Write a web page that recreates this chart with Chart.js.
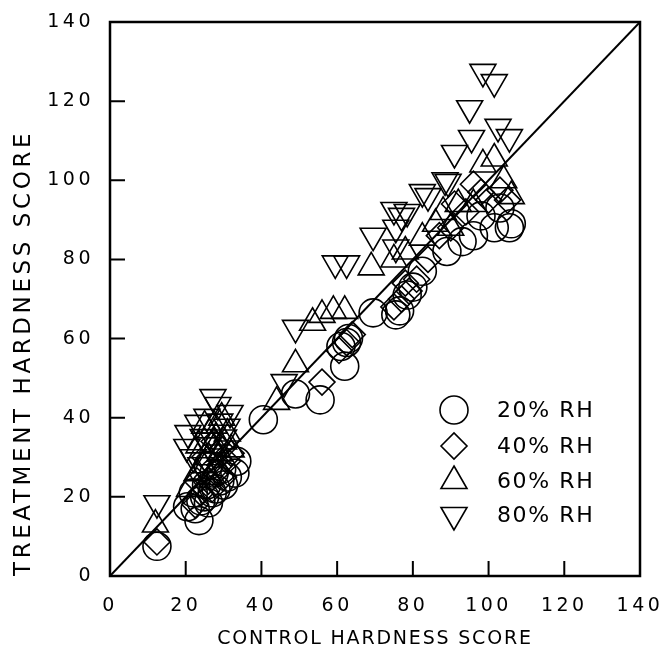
<!DOCTYPE html>
<html>
<head>
<meta charset="utf-8">
<script src="https://cdn.jsdelivr.net/npm/chart.js@4/dist/chart.umd.min.js"></script>
<style>
  html, body { margin: 0; padding: 0; background: #fff; }
  #wrap { width: 663px; height: 658px; }
</style>
</head>
<body>
<div id="wrap"><canvas id="hardness"></canvas></div>
<script>
// values (control score, treatment score)
const rh20X = [12.4, 23.5, 20.5, 22.5, 24, 25, 26, 27, 28, 29, 30, 31, 33, 33.5, 25.5, 27.5, 29.5, 22, 26, 40.5, 49, 55.5, 62, 61, 62.5, 63, 69.5, 75.5, 76.5, 78.5, 80, 82.5, 89, 93, 96, 101.5, 105.5, 106, 98, 103];
const rh20Y = [7.5, 14, 17.5, 17, 19, 20, 18.5, 21, 22, 24, 23, 25, 26, 29, 23, 26, 27, 21, 28, 39.5, 46, 44.5, 53, 58, 59, 60, 66.5, 66, 67, 71, 73, 77, 82, 84.5, 86, 88, 88, 89, 91, 93];

const rh40X = [12.4, 22.5, 24, 26, 27, 28, 29, 30, 31, 25, 23, 32, 27.5, 29.5, 56, 60.5, 62.5, 64, 75, 77, 79, 81, 84, 87, 90, 91, 94, 96, 98, 100, 103, 105, 78];
const rh40Y = [8.6, 18, 21, 24, 22, 26, 28, 25, 29, 30, 24, 31, 34, 32, 49, 57, 59, 61, 68, 70, 72, 75, 80, 86, 88, 94, 92, 99, 97, 95, 97.5, 95, 74];

const rh60X = [12, 21, 23, 24.5, 26, 27, 28, 29, 30, 31, 32, 25, 27.5, 29.5, 26.5, 23.5, 44, 49, 53.5, 56, 59, 62, 69, 75, 78, 82.5, 86, 88, 92, 96, 98.5, 101.5, 106, 104, 90];
const rh60Y = [13, 22, 26, 28, 30, 33, 35, 31, 34, 36, 32, 38, 38, 40, 25, 33, 44, 53.5, 64, 66, 67, 67, 78, 80, 82, 85.5, 89, 92, 94, 94, 104, 105.5, 96, 100, 88];

const rh80X = [12.4, 20.3, 20.6, 23.2, 24.6, 25.6, 27.2, 28.5, 30.9, 31.7, 22, 26, 29, 30, 24, 46, 49, 59.5, 62.5, 69.5, 75, 75.5, 78.5, 75.5, 82.5, 88.5, 89.3, 91, 95.5, 95, 98.5, 101.5, 102.5, 105.5, 77, 84];
const rh80Y = [18.4, 32.6, 36.1, 38.7, 35.1, 40.2, 45.2, 43.2, 37.7, 41.2, 30, 33, 39, 35, 28, 49, 62.7, 79, 79, 86, 92.5, 83, 92, 88, 97, 100, 99.6, 106.9, 110.7, 118.2, 127.4, 124.8, 113.5, 110.9, 91, 96];

const seriesLabels = ['20% RH', '40% RH', '60% RH', '80% RH'];
const axisTicks = [0, 20, 40, 60, 80, 100, 120, 140];
const lineOfEquality = [0, 140];

const FONT = "'DejaVu Sans', sans-serif";

function pairs(xs, ys) {
  return xs.map((x, i) => ({ x: x, y: ys[i] }));
}

const markerStyles = [
  { pointStyle: 'circle', radius: 14, rotation: 0 },
  { pointStyle: 'rectRot', radius: 13, rotation: 0 },
  { pointStyle: 'triangle', radius: 15, rotation: 0 },
  { pointStyle: 'triangle', radius: 15, rotation: 180 }
];

const seriesData = [pairs(rh20X, rh20Y), pairs(rh40X, rh40Y), pairs(rh60X, rh60Y), pairs(rh80X, rh80Y)];

const datasets = seriesData.map((d, i) => ({
  type: 'scatter',
  label: seriesLabels[i],
  data: d,
  pointStyle: markerStyles[i].pointStyle,
  pointRadius: markerStyles[i].radius,
  pointRotation: markerStyles[i].rotation,
  pointBorderColor: '#000',
  pointBackgroundColor: 'rgba(0,0,0,0)',
  pointBorderWidth: 1.6,
  pointHoverRadius: markerStyles[i].radius
}));

datasets.push({
  type: 'line',
  label: 'y = x',
  data: pairs(lineOfEquality, lineOfEquality),
  borderColor: '#000',
  borderWidth: 2,
  pointRadius: 0,
  fill: false
});

// wrap a scale draw method so its text gets its own letter spacing
function spaced(fn, sp) {
  return function () {
    const c = this.ctx;
    const old = c.letterSpacing;
    c.letterSpacing = sp;
    fn.apply(this, arguments);
    c.letterSpacing = old;
  };
}

const spacingPlugin = {
  id: 'spacing',
  afterUpdate(chart) {
    const x = chart.scales.x, y = chart.scales.y;
    if (!x._spaced) {
      x.drawLabels = spaced(x.drawLabels, '3.5px');
      x.drawTitle = spaced(x.drawTitle, '1.8px');
      x._spaced = true;
    }
    if (!y._spaced) {
      y.drawLabels = spaced(y.drawLabels, '3.5px');
      y.drawTitle = spaced(y.drawTitle, '3.6px');
      y._spaced = true;
    }
  }
};

// box and inward ticks
const framePlugin = {
  id: 'frame',
  afterDatasetsDraw(chart) {
    const ctx = chart.ctx;
    const a = chart.chartArea;
    const xs = chart.scales.x, ys = chart.scales.y;
    ctx.save();
    ctx.strokeStyle = '#000';
    ctx.lineWidth = 2.5;
    ctx.strokeRect(a.left, a.top, a.right - a.left, a.bottom - a.top);
    ctx.lineWidth = 2;
    ctx.beginPath();
    axisTicks.slice(1, -1).forEach(v => {
      const px = xs.getPixelForValue(v);
      ctx.moveTo(px, a.bottom);
      ctx.lineTo(px, a.bottom - 15);
      const py = ys.getPixelForValue(v);
      ctx.moveTo(a.left, py);
      ctx.lineTo(a.left + 15, py);
    });
    ctx.stroke();
    ctx.restore();
  }
};

// legend drawn inside the plot, lower right
const insideLegend = {
  id: 'insideLegend',
  afterDraw(chart) {
    const ctx = chart.ctx;
    const a = chart.chartArea;
    const mx = a.left + 344, tx = a.left + 387;
    const rows = [410, 446, 481, 515];
    ctx.save();
    ctx.letterSpacing = '1.6px';
    ctx.font = '22px ' + FONT;
    ctx.textBaseline = 'middle';
    ctx.textAlign = 'left';
    seriesLabels.forEach((lab, i) => {
      const m = markerStyles[i];
      ctx.fillStyle = 'rgba(0,0,0,0)';
      ctx.strokeStyle = '#000';
      ctx.lineWidth = 1.6;
      Chart.helpers.drawPoint(ctx, {
        pointStyle: m.pointStyle,
        radius: m.radius,
        rotation: m.rotation,
        borderWidth: 1.6
      }, mx, rows[i]);
      ctx.fillStyle = '#000';
      ctx.fillText(lab, tx, rows[i] + 1);
    });
    ctx.restore();
  }
};

new Chart(document.getElementById('hardness'), {
  data: { datasets: datasets },
  plugins: [spacingPlugin, framePlugin, insideLegend],
  options: {
    responsive: true,
    maintainAspectRatio: false,
    animation: false,
    layout: { padding: 0 },
    plugins: {
      legend: { display: false },
      tooltip: { enabled: false }
    },
    scales: {
      x: {
        type: 'linear',
        min: 0, max: 140,
        afterBuildTicks: s => { s.ticks = axisTicks.map(v => ({ value: v })); },
        afterFit: s => { s.height = 82; s.paddingLeft = 0; s.paddingRight = 23; },
        grid: { display: false, drawTicks: false },
        border: { display: false },
        ticks: { color: '#000', padding: 19, maxRotation: 0, font: { family: FONT, size: 19 } },
        title: {
          display: true,
          text: 'CONTROL HARDNESS SCORE',
          color: '#000',
          font: { family: FONT, size: 19 },
          padding: { bottom: 8 }
        }
      },
      y: {
        type: 'linear',
        min: 0, max: 140,
        afterBuildTicks: s => { s.ticks = axisTicks.map(v => ({ value: v })); },
        afterFit: s => { s.width = 110; s.paddingTop = 22; s.paddingBottom = 0; },
        grid: { display: false, drawTicks: false },
        border: { display: false },
        ticks: { color: '#000', padding: 16, font: { family: FONT, size: 19 } },
        title: {
          display: true,
          align: 'start',
          text: 'TREATMENT HARDNESS SCORE',
          color: '#000',
          font: { family: FONT, size: 23 },
          padding: { top: 10 }
        }
      }
    }
  }
});
</script>
</body>
</html>
